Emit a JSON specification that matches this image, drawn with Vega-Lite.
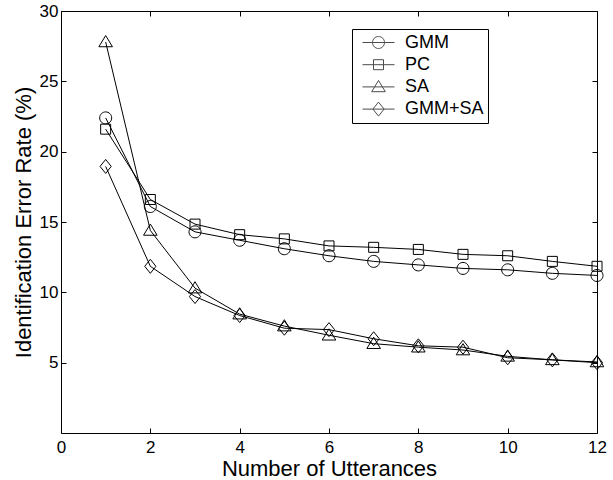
{
  "$schema": "https://vega.github.io/schema/vega-lite/v6.json",
  "width": 536,
  "height": 422,
  "autosize": {"type": "none"},
  "padding": {"left": 61, "top": 11, "right": 16, "bottom": 47},
  "background": "white",
  "config": {
    "view": {"stroke": "black", "strokeWidth": 1},
    "font": "Liberation Sans",
    "axis": {
      "labelFont": "Liberation Sans",
      "titleFont": "Liberation Sans",
      "labelFontSize": 17,
      "titleFontSize": 22,
      "titleFontWeight": "normal",
      "labelColor": "black",
      "titleColor": "black",
      "tickColor": "black",
      "domain": false,
      "grid": false,
      "tickSize": -5,
      "tickWidth": 1
    },
    "legend": {
      "labelFont": "Liberation Sans",
      "labelFontSize": 18,
      "labelColor": "black"
    }
  },
  "data": {
    "values": [
      {"n": 1, "method": "GMM", "rate": 22.4},
      {"n": 2, "method": "GMM", "rate": 16.1},
      {"n": 3, "method": "GMM", "rate": 14.3},
      {"n": 4, "method": "GMM", "rate": 13.7},
      {"n": 5, "method": "GMM", "rate": 13.1},
      {"n": 6, "method": "GMM", "rate": 12.6},
      {"n": 7, "method": "GMM", "rate": 12.2},
      {"n": 8, "method": "GMM", "rate": 11.95},
      {"n": 9, "method": "GMM", "rate": 11.7},
      {"n": 10, "method": "GMM", "rate": 11.6},
      {"n": 11, "method": "GMM", "rate": 11.35},
      {"n": 12, "method": "GMM", "rate": 11.2},
      {"n": 1, "method": "PC", "rate": 21.6},
      {"n": 2, "method": "PC", "rate": 16.6},
      {"n": 3, "method": "PC", "rate": 14.85},
      {"n": 4, "method": "PC", "rate": 14.1},
      {"n": 5, "method": "PC", "rate": 13.8},
      {"n": 6, "method": "PC", "rate": 13.3},
      {"n": 7, "method": "PC", "rate": 13.2},
      {"n": 8, "method": "PC", "rate": 13.05},
      {"n": 9, "method": "PC", "rate": 12.7},
      {"n": 10, "method": "PC", "rate": 12.6},
      {"n": 11, "method": "PC", "rate": 12.2},
      {"n": 12, "method": "PC", "rate": 11.85},
      {"n": 1, "method": "SA", "rate": 27.8},
      {"n": 2, "method": "SA", "rate": 14.4},
      {"n": 3, "method": "SA", "rate": 10.3},
      {"n": 4, "method": "SA", "rate": 8.45},
      {"n": 5, "method": "SA", "rate": 7.6},
      {"n": 6, "method": "SA", "rate": 6.95},
      {"n": 7, "method": "SA", "rate": 6.35},
      {"n": 8, "method": "SA", "rate": 6.1},
      {"n": 9, "method": "SA", "rate": 5.9},
      {"n": 10, "method": "SA", "rate": 5.45},
      {"n": 11, "method": "SA", "rate": 5.2},
      {"n": 12, "method": "SA", "rate": 5.05},
      {"n": 1, "method": "GMM+SA", "rate": 18.95},
      {"n": 2, "method": "GMM+SA", "rate": 11.85},
      {"n": 3, "method": "GMM+SA", "rate": 9.7},
      {"n": 4, "method": "GMM+SA", "rate": 8.35},
      {"n": 5, "method": "GMM+SA", "rate": 7.45},
      {"n": 6, "method": "GMM+SA", "rate": 7.35},
      {"n": 7, "method": "GMM+SA", "rate": 6.7},
      {"n": 8, "method": "GMM+SA", "rate": 6.2},
      {"n": 9, "method": "GMM+SA", "rate": 6.1},
      {"n": 10, "method": "GMM+SA", "rate": 5.35},
      {"n": 11, "method": "GMM+SA", "rate": 5.2},
      {"n": 12, "method": "GMM+SA", "rate": 5.0}
    ]
  },
  "layer": [
    {
      "mark": {"type": "line", "color": "black", "strokeWidth": 1},
      "encoding": {
        "x": {
          "field": "n", "type": "quantitative",
          "scale": {"domain": [0, 12], "nice": false},
          "axis": {"orient": "bottom", "values": [0, 2, 4, 6, 8, 10, 12], "title": "Number of Utterances", "labelPadding": 11, "titlePadding": 3, "labelFlush": false}
        },
        "y": {
          "field": "rate", "type": "quantitative",
          "scale": {"domain": [0, 30], "nice": false},
          "axis": {"orient": "left", "values": [5, 10, 15, 20, 25, 30], "title": "Identification Error Rate (%)", "labelPadding": 8, "titlePadding": 4}
        },
        "detail": {"field": "method"}
      }
    },
    {
      "mark": {"type": "point", "filled": false, "stroke": "black", "strokeWidth": 1, "size": 256, "opacity": 1},
      "encoding": {
        "x": {
          "field": "n", "type": "quantitative",
          "axis": {"orient": "top", "values": [0, 2, 4, 6, 8, 10, 12], "labels": false, "title": null}
        },
        "y": {
          "field": "rate", "type": "quantitative",
          "axis": {"orient": "right", "values": [5, 10, 15, 20, 25, 30], "labels": false, "title": null}
        },
        "shape": {
          "field": "method", "type": "nominal",
          "scale": {
            "domain": ["GMM", "PC", "SA", "GMM+SA"],
            "range": [
              "M 0.75 0 A 0.75 0.75 0 1 1 -0.75 0 A 0.75 0.75 0 1 1 0.75 0 Z",
              "M -0.625 -0.625 L 0.625 -0.625 L 0.625 0.625 L -0.625 0.625 Z",
              "M 0 -0.8 L 0.85 0.6 L -0.85 0.6 Z",
              "M 0 -0.875 L 0.7 0 L 0 0.875 L -0.7 0 Z"
            ]
          },
          "legend": null
        }
      }
    },
    {
      "transform": [{"filter": "false"}],
      "mark": {"type": "point", "filled": false, "stroke": "black", "strokeWidth": 1},
      "encoding": {
        "x": {"field": "n", "type": "quantitative", "axis": null},
        "y": {"field": "rate", "type": "quantitative", "axis": null},
        "shape": {
          "field": "method", "type": "nominal",
          "scale": {
            "domain": ["GMM", "PC", "SA", "GMM+SA"],
            "range": [
              "M -1 0 L 1 0 M 0.375 0 A 0.375 0.375 0 1 1 -0.375 0 A 0.375 0.375 0 1 1 0.375 0",
              "M -1 0 L 1 0 M -0.3125 -0.3125 L 0.3125 -0.3125 L 0.3125 0.3125 L -0.3125 0.3125 Z",
              "M -1 0 L 1 0 M 0 -0.4 L 0.425 0.3 L -0.425 0.3 Z",
              "M -1 0 L 1 0 M 0 -0.4375 L 0.35 0 L 0 0.4375 L -0.35 0 Z"
            ]
          },
          "legend": {
            "title": null,
            "orient": "none",
            "legendX": 291,
            "legendY": 18,
            "padding": 4,
            "symbolOffset": 6,
            "labelOffset": 10,
            "clipHeight": 19,
            "rowPadding": 3.2,
            "symbolSize": 1024,
            "symbolStrokeWidth": 1,
            "symbolStrokeColor": "black",
            "symbolFillColor": "transparent",
            "strokeColor": "black",
            "fillColor": "white"
          }
        }
      }
    }
  ],
  "resolve": {
    "axis": {"x": "independent", "y": "independent"},
    "scale": {"shape": "independent"}
  }
}
